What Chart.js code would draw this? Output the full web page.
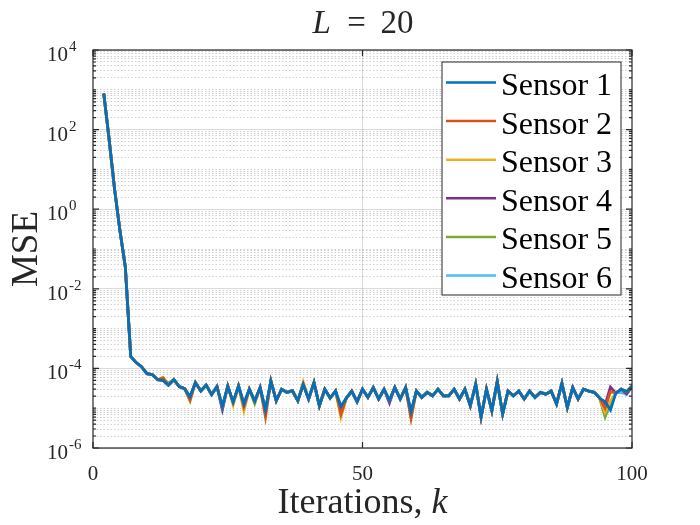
<!DOCTYPE html>
<html>
<head>
<meta charset="utf-8">
<script src="https://cdn.jsdelivr.net/npm/chart.js@4.4.0/dist/chart.umd.min.js"></script>
<style>
  html, body { margin: 0; padding: 0; background: #fff; }
  #wrap { width: 700px; height: 525px; }
</style>
</head>
<body>
<div id="wrap"><canvas id="mseChart" width="700" height="525"></canvas></div>
<script>
// iterations shown in the plot (k = 1 is not drawn)
const iterations = [
  2, 3, 4, 5, 6, 7, 8, 9, 10, 11,
  12, 13, 14, 15, 16, 17, 18, 19, 20, 21,
  22, 23, 24, 25, 26, 27, 28, 29, 30, 31,
  32, 33, 34, 35, 36, 37, 38, 39, 40, 41,
  42, 43, 44, 45, 46, 47, 48, 49, 50, 51,
  52, 53, 54, 55, 56, 57, 58, 59, 60, 61,
  62, 63, 64, 65, 66, 67, 68, 69, 70, 71,
  72, 73, 74, 75, 76, 77, 78, 79, 80, 81,
  82, 83, 84, 85, 86, 87, 88, 89, 90, 91,
  92, 93, 94, 95, 96, 97, 98, 99, 100
];

const sensor1 = [
  800, 55, 3.2, 0.29, 0.035, 2.0e-4, 1.4e-4, 1.1e-4, 7.4e-5, 7.0e-5,
  5.2e-5, 5.0e-5, 3.8e-5, 5.2e-5, 3.5e-5, 3.1e-5, 1.9e-5, 4.4e-5, 2.7e-5, 3.8e-5,
  2.2e-5, 3.5e-5, 1.1e-5, 3.6e-5, 1.4e-5, 3.6e-5, 1.25e-5, 3.0e-5, 1.5e-5, 3.3e-5,
  9.0e-6, 4.8e-5, 1.55e-5, 3.0e-5, 2.5e-5, 2.75e-5, 1.55e-5, 4.0e-5, 1.7e-5, 4.4e-5,
  1.15e-5, 3.0e-5, 1.8e-5, 2.7e-5, 1.1e-5, 1.8e-5, 2.7e-5, 1.45e-5, 3.0e-5, 1.87e-5,
  3.3e-5, 1.7e-5, 3.0e-5, 1.55e-5, 3.3e-5, 1.7e-5, 3.3e-5, 8.0e-6, 2.7e-5, 1.87e-5,
  2.5e-5, 2.05e-5, 3.0e-5, 2.05e-5, 2.05e-5, 3.0e-5, 1.7e-5, 3.0e-5, 1.15e-5, 4.0e-5,
  6.0e-6, 3.0e-5, 8.7e-6, 4.7e-5, 7.2e-6, 2.7e-5, 2.05e-5, 2.7e-5, 1.7e-5, 2.7e-5,
  1.87e-5, 2.5e-5, 2.25e-5, 2.7e-5, 1.28e-5, 4.2e-5, 1.05e-5, 3.3e-5, 1.7e-5, 3.0e-5,
  2.7e-5, 2.5e-5, 1.8e-5, 1.45e-5, 9.0e-6, 2.4e-5, 3.0e-5, 2.6e-5, 3.5e-5
];

// the other sensors follow sensor 1 except at these iterations
const sensor2Diff = { 13: 5.8e-5, 18: 1.6e-5, 28: 1.1e-5, 32: 6.0e-6, 46: 7.0e-6, 59: 5.5e-6, 95: 1.0e-5, 96: 2.6e-5 };
const sensor3Diff = { 13: 6.0e-5, 18: 1.5e-5, 26: 1.2e-5, 28: 8.5e-6, 32: 7.5e-6, 39: 4.6e-5, 46: 6.0e-6, 59: 6.0e-6, 95: 8.0e-6, 96: 1.5e-5 };
const sensor4Diff = { 24: 9.5e-6, 46: 8.0e-6, 55: 1.35e-5, 59: 7.5e-6, 95: 1.2e-5, 96: 3.4e-5, 99: 2.3e-5 };
const sensor5Diff = { 14: 4.3e-5, 30: 1.3e-5, 95: 6.0e-6, 96: 1.3e-5, 100: 3.8e-5 };
const sensor6Diff = { 24: 9.0e-6, 46: 9.0e-6, 95: 7.5e-6, 96: 1.1e-5, 98: 2.5e-5, 99: 2.2e-5 };

const sensorNames = ["Sensor 1", "Sensor 2", "Sensor 3", "Sensor 4", "Sensor 5", "Sensor 6"];
const sensorColors = ["#0072BD", "#D95319", "#EDB120", "#7E2F8E", "#77AC30", "#4DBEEE"];

const xTicks = [0, 50, 100];
const yDecadeExps = [-6, -5, -4, -3, -2, -1, 0, 1, 2, 3, 4];
const yMinorSteps = [2, 3, 4, 5, 6, 7, 8, 9];
const yLabelExps = [-6, -4, -2, 0, 2, 4];

const withDiff = (diff) => sensor1.map((v, i) => (diff[iterations[i]] !== undefined ? diff[iterations[i]] : v));
const sensorValues = [sensor1, withDiff(sensor2Diff), withDiff(sensor3Diff), withDiff(sensor4Diff), withDiff(sensor5Diff), withDiff(sensor6Diff)];

const axisColor = "#262626";
const majorGrid = "rgba(38,38,38,0.17)";
const minorGrid = "rgba(38,38,38,0.22)";
const serif = '"Liberation Serif", "Times New Roman", serif';

const yGridValues = [];
yDecadeExps.forEach((e) => {
  yGridValues.push(Math.pow(10, e));
  if (e < 4) yMinorSteps.forEach((s) => yGridValues.push(s * Math.pow(10, e)));
});

const datasets = sensorNames.map((name, idx) => ({
  label: name,
  data: iterations.map((k, i) => ({ x: k, y: sensorValues[idx][i] })),
  borderColor: sensorColors[idx],
  backgroundColor: sensorColors[idx],
  borderWidth: 2.8,
  pointRadius: 0,
  tension: 0,
  fill: false,
}));

// box, inward ticks, tick labels with exponents, titles and legend
const decorations = {
  id: "decorations",
  afterDraw(chart) {
    const { ctx, chartArea: a, scales } = chart;
    const y = scales.y;
    const x = scales.x;
    ctx.save();

    // axes box
    ctx.strokeStyle = axisColor;
    ctx.lineWidth = 1.2;
    ctx.strokeRect(a.left, a.top, a.right - a.left, a.bottom - a.top);

    // y ticks (inward on both sides)
    yGridValues.forEach((v) => {
      const py = y.getPixelForValue(v);
      const isMajor = yLabelExps.some((e) => Math.abs(Math.pow(10, e) - v) < v * 1e-9);
      const len = isMajor ? 6 : 3;
      ctx.beginPath();
      ctx.moveTo(a.left, py); ctx.lineTo(a.left + len, py);
      ctx.moveTo(a.right, py); ctx.lineTo(a.right - len, py);
      ctx.stroke();
    });
    // x ticks
    xTicks.forEach((v) => {
      const px = x.getPixelForValue(v);
      ctx.beginPath();
      ctx.moveTo(px, a.bottom); ctx.lineTo(px, a.bottom - 6);
      ctx.moveTo(px, a.top); ctx.lineTo(px, a.top + 6);
      ctx.stroke();
    });

    // y tick labels 10^n
    ctx.fillStyle = axisColor;
    ctx.textBaseline = "alphabetic";
    yLabelExps.forEach((e) => {
      const py = y.getPixelForValue(Math.pow(10, e));
      ctx.font = "21px " + serif;
      ctx.textAlign = "right";
      ctx.fillText("10", a.left - 25, py + 11);
      ctx.font = "15px " + serif;
      ctx.textAlign = "left";
      ctx.fillText(e < 0 ? "-" + Math.abs(e) : String(e), a.left - 24, py + 1);
    });

    const cx = (a.left + a.right) / 2;

    // title: L = 20
    ctx.textAlign = "left";
    ctx.font = "italic 33px " + serif;
    ctx.fillText("L", cx - 50, 33);
    ctx.font = "33px " + serif;
    ctx.textAlign = "center";
    ctx.fillText("=", cx - 6, 33);
    ctx.textAlign = "left";
    ctx.fillText("20", cx + 18, 33);

    // x label
    ctx.font = "36px " + serif;
    const part1 = "Iterations, ";
    const w1 = ctx.measureText(part1).width;
    ctx.font = "italic 36px " + serif;
    const w2 = ctx.measureText("k").width;
    const startX = cx - (w1 + w2) / 2;
    ctx.font = "36px " + serif;
    ctx.fillText(part1, startX, 513);
    ctx.font = "italic 36px " + serif;
    ctx.fillText("k", startX + w1, 513);

    // y label
    ctx.save();
    ctx.translate(37, (a.top + a.bottom) / 2);
    ctx.rotate(-Math.PI / 2);
    ctx.font = "37px " + serif;
    ctx.textAlign = "center";
    ctx.fillText("MSE", 0, 0);
    ctx.restore();

    // legend
    const lx = 442, ly = 62, lw = 179, lh = 233;
    ctx.fillStyle = "#ffffff";
    ctx.fillRect(lx, ly, lw, lh);
    ctx.strokeStyle = axisColor;
    ctx.lineWidth = 1;
    ctx.strokeRect(lx, ly, lw, lh);
    chart.data.datasets.forEach((ds, i) => {
      const ey = 82.5 + i * 38.6;
      ctx.strokeStyle = ds.borderColor;
      ctx.lineWidth = 2.5;
      ctx.beginPath();
      ctx.moveTo(446, ey); ctx.lineTo(496, ey);
      ctx.stroke();
      ctx.fillStyle = "#000000";
      ctx.font = "32px " + serif;
      ctx.textAlign = "left";
      ctx.fillText(ds.label, 501, ey + 12.5);
    });

    ctx.restore();
  },
};

const ctx = document.getElementById("mseChart").getContext("2d");

new Chart(ctx, {
  type: "line",
  data: { datasets },
  options: {
    responsive: false,
    animation: false,
    layout: { padding: { top: 50, right: 68, left: 0, bottom: 0 } },
    plugins: {
      legend: { display: false },
      tooltip: { enabled: false },
    },
    scales: {
      x: {
        type: "linear",
        min: 0,
        max: 100,
        afterBuildTicks: (s) => { s.ticks = xTicks.map((v) => ({ value: v })); },
        afterFit: (s) => { s.height = 77; },
        grid: {
          color: (c) => (c.tick && c.tick.value === 50 ? majorGrid : "transparent"),
          drawTicks: false,
        },
        border: { display: false },
        ticks: {
          color: axisColor,
          font: { family: serif, size: 21 },
          padding: 14,
          maxRotation: 0,
        },
      },
      y: {
        type: "logarithmic",
        min: 1e-6,
        max: 1e4,
        afterBuildTicks: (s) => { s.ticks = yGridValues.map((v) => ({ value: v })); },
        afterFit: (s) => { s.width = 93; },
        ticks: { display: false },
        grid: {
          drawTicks: false,
          color: (c) => {
            const v = c.tick ? c.tick.value : 0;
            const isDecadeLabel = yLabelExps.some((e) => Math.abs(Math.pow(10, e) - v) < v * 1e-9);
            return isDecadeLabel ? "transparent" : minorGrid;
          },
        },
        border: { display: false, dash: [1.5, 2] },
      },
      yMajor: {
        type: "logarithmic",
        position: "left",
        min: 1e-6,
        max: 1e4,
        afterBuildTicks: (s) => { s.ticks = yLabelExps.map((e) => ({ value: Math.pow(10, e) })); },
        afterFit: (s) => { s.width = 0; },
        ticks: { display: false },
        grid: { drawTicks: false, color: majorGrid },
        border: { display: false },
      },
    },
  },
  plugins: [decorations],
});
</script>
</body>
</html>
